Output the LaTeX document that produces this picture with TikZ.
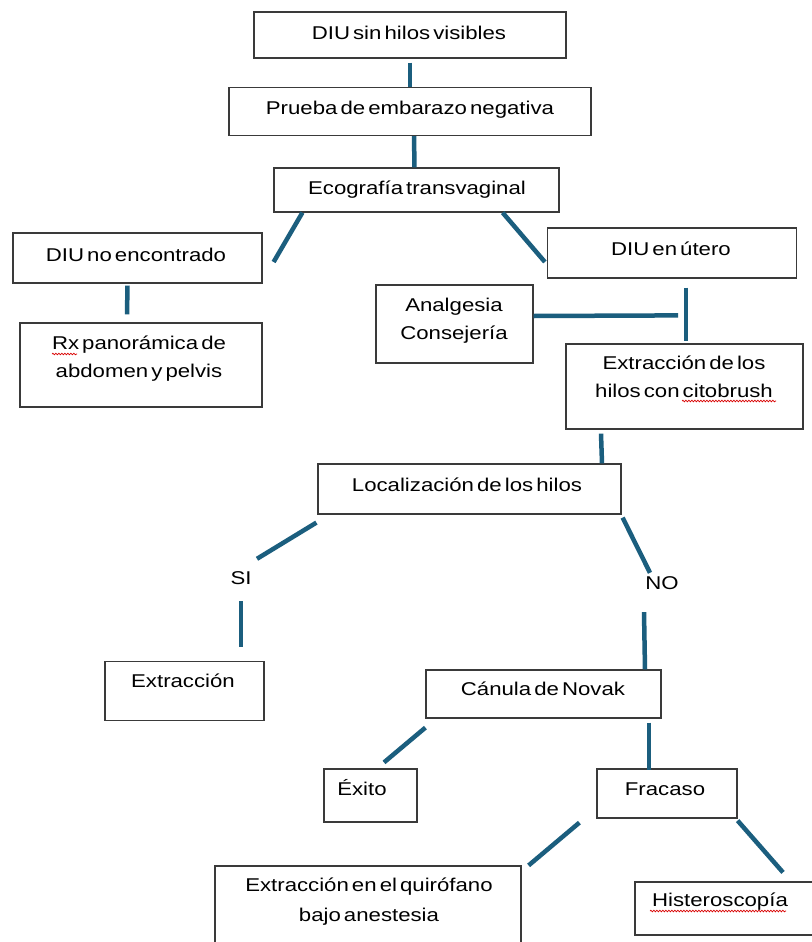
\documentclass[tikz,border=0pt]{standalone}
\usepackage{fontspec}
\setmainfont{Liberation Sans}[FakeStretch=1.2,WordSpace=0.5]
\usetikzlibrary{decorations.pathmorphing}

\definecolor{linkblue}{HTML}{1B5E7E}
\definecolor{boxgray}{HTML}{3A3A3A}

\begin{document}
\begin{tikzpicture}[x=1pt,y=-1pt]

    \tikzset{
      box/.style={
        draw=boxgray,
        line width=1.2pt,
        inner sep=0pt,
      },
      txt/.style={
        inner sep=1pt,
        text height=13pt,
        text depth=0pt,
        font=\fontsize{18.5}{28}\selectfont,
      },
      txtii/.style={
        inner sep=0pt,
        align=center,
        font=\fontsize{18.5}{28}\selectfont,
      },
      link/.style={
        draw=linkblue,
        line width=4.5pt,
      },
      spell/.style={
        draw=red!85!black,
        line width=0.7pt,
        decorate,
        decoration={snake,amplitude=0.8pt,segment length=3pt},
      },
    }
    \fill[white] (0,0) rectangle (811,942);
    \useasboundingbox (0,0) rectangle (811,942);

    % boxes
    \node[box,minimum width=312pt,minimum height=46pt] (sinhilos) at (410,35) {};
    \node[box,minimum width=362pt,minimum height=48pt] (prueba) at (410,111.5) {};
    \node[box,minimum width=285pt,minimum height=44pt] (eco) at (416.5,190) {};
    \node[box,minimum width=249pt,minimum height=50pt] (noenc) at (137.5,258) {};
    \node[box,minimum width=249pt,minimum height=50pt] (utero) at (672,253) {};
    \node[box,minimum width=157pt,minimum height=78pt] (analg) at (454.5,324) {};
    \node[box,minimum width=242pt,minimum height=84pt] (rx) at (141,365) {};
    \node[box,minimum width=237pt,minimum height=85pt] (cito) at (684.5,386.5) {};
    \node[box,minimum width=303pt,minimum height=50pt] (loc) at (469.5,489) {};
    \node[box,minimum width=159pt,minimum height=59pt] (extr) at (184.5,691) {};
    \node[box,minimum width=235pt,minimum height=48pt] (novak) at (543.5,694) {};
    \node[box,minimum width=93pt,minimum height=53pt] (exito) at (370.5,795.5) {};
    \node[box,minimum width=140pt,minimum height=49pt] (fracaso) at (667,793.5) {};
    \node[box,minimum width=306pt,minimum height=84pt] (quir) at (368,908) {};
    \node[box,minimum width=195pt,minimum height=53pt] (hist) at (732.5,908.5) {};

    % texts
    \node[txt] (sinhilos-t) at (409,33) {DIU sin hilos visibles};
    \node[txt] (prueba-t) at (410,108) {Prueba de embarazo negativa};
    \node[txt] (eco-t) at (417,188) {Ecografía transvaginal};
    \node[txt] (noenc-t) at (136,255) {DIU no encontrado};
    \node[txt] (utero-t) at (671,249) {DIU en útero};
    \node[txtii] (analg-t) at (454,320.8) {Analgesia\\Consejería};
    \node[txtii] (rx-t) at (139,358.8) {Rx panorámica de\\abdomen y pelvis};
    \node[txtii] (cito-t) at (684,376.8) {Extracción de los\\hilos con citobrush};
    \node[txt] (loc-t) at (467,485) {Localización de los hilos};
    \node[txt] (si) at (241,578) {SI};
    \node[txt] (no) at (662,583) {NO};
    \node[txt] (extr-t) at (183,681) {Extracción};
    \node[txt] (novak-t) at (543,689) {Cánula de Novak};
    \node[txt] (exito-t) at (362,789) {Éxito};
    \node[txt] (fracaso-t) at (665,789) {Fracaso};
    \node[txtii] (quir-t) at (369,901.7) {Extracción en el quirófano\\[2pt]bajo anestesia};
    \node[txt] (hist-t) at (720,900) {Histeroscopía};

    % spelling marks
    \draw[spell] (52,354) -- (77,354);
    \draw[spell] (682,401) -- (776,401);
    \draw[spell] (650,911) -- (786,911);

    % connectors
    \draw[link] ([yshift=-4]sinhilos.south) -- (prueba.north);
    \draw[link] ([xshift=4]prueba.south) -- ([xshift=-2]eco.north);
    \draw[link] ([xshift=29]eco.south west) -- ([xshift=11,yshift=-4]noenc.east);
    \draw[link] ([xshift=-57]eco.south east) -- ([xshift=-2,yshift=-9]utero.west);
    \draw[link] ([xshift=-10,yshift=-2]noenc.south) -- ([xshift=-14,yshift=8]rx.north);
    \draw[link] ([xshift=14,yshift=-9]utero.south) -- ([xshift=1.5,yshift=2]cito.north);
    \draw[link] ([yshift=8]analg.east) -- ([xshift=-6.5,yshift=28]cito.north);
    \draw[link] ([xshift=-83.5,yshift=-4]cito.south) -- ([xshift=132.5]loc.north);
    \draw[link] ([xshift=-1,yshift=-8]loc.south west) -- ([xshift=16,yshift=11.5]si.north);
    \draw[link] ([yshift=-15.5]si.south) -- ([xshift=56.5,yshift=13.5]extr.north);
    \draw[link] ([xshift=1,yshift=-3]loc.south east) -- ([xshift=-12,yshift=2.5]no.north);
    \draw[link] ([xshift=-18,yshift=-21.5]no.south) -- ([xshift=101.5]novak.north);
    \draw[link] ([yshift=-9]novak.south west) -- ([xshift=13.5,yshift=6]exito.north);
    \draw[link] ([xshift=105.5,yshift=-4]novak.south) -- ([xshift=-18,yshift=-1.5]fracaso.north);
    \draw[link] ([xshift=-17,yshift=-4]fracaso.south west) -- ([xshift=7]quir.north east);
    \draw[link] ([yshift=-2]fracaso.south east) -- ([xshift=50.5,yshift=9]hist.north);

\end{tikzpicture}
\end{document}
